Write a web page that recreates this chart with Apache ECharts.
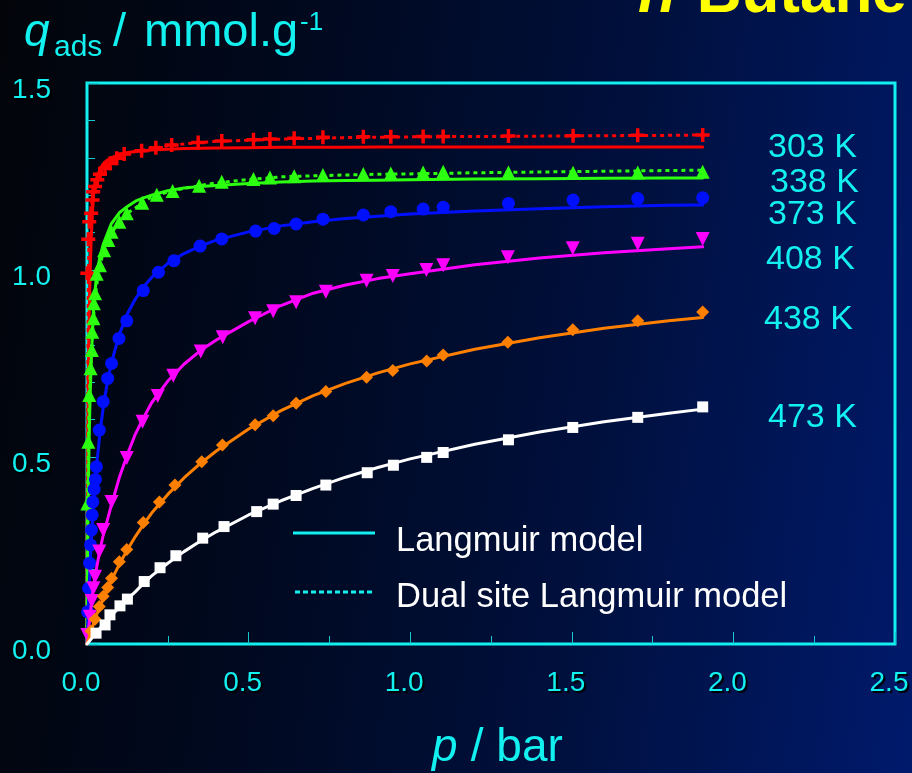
<!DOCTYPE html>
<html><head><meta charset="utf-8">
<script src="https://cdn.jsdelivr.net/npm/echarts@6/dist/echarts.min.js"></script>
<style>
html,body{margin:0;padding:0;background:#000;}
#c{width:912px;height:773px;background:linear-gradient(98deg,#020409 0%,#000a24 38%,#00103e 65%,#001a6c 100%);}
</style>
</head><body><div id="c"></div>
<script>
// ---- axis ticks ----
const xTicks = [0, 0.5, 1.0, 1.5, 2.0, 2.5];
const yTicks = [0, 0.5, 1.0, 1.5];
const tempLabels = ['303 K', '338 K', '373 K', '408 K', '438 K', '473 K'];

// ---- experimental points (p / bar, q / mmol g-1) ----
const pExp303 = [0.001,0.004,0.007,0.013,0.017,0.019,0.025,0.032,0.040,0.056,0.071,0.092,0.115,0.169,0.213,0.262,0.344,0.417,0.515,0.566,0.641,0.730,0.855,0.940,1.040,1.102,1.304,1.504,1.704,1.905];
const qExp303 = [0.991,1.082,1.129,1.152,1.187,1.209,1.223,1.241,1.256,1.272,1.285,1.299,1.310,1.319,1.327,1.334,1.341,1.345,1.348,1.350,1.352,1.355,1.356,1.356,1.357,1.357,1.358,1.359,1.360,1.361];

const pExp338 = [0.001,0.004,0.007,0.011,0.015,0.016,0.020,0.021,0.025,0.030,0.040,0.053,0.066,0.076,0.100,0.123,0.171,0.216,0.265,0.347,0.417,0.515,0.566,0.641,0.730,0.855,0.940,1.040,1.102,1.304,1.504,1.704,1.905];
const qExp338 = [0.376,0.541,0.666,0.737,0.786,0.835,0.871,0.911,0.938,0.990,1.013,1.053,1.080,1.102,1.129,1.152,1.180,1.201,1.211,1.225,1.236,1.243,1.247,1.251,1.254,1.257,1.258,1.261,1.263,1.261,1.260,1.261,1.263];

const pExp373 = [0.002,0.005,0.008,0.011,0.014,0.016,0.018,0.022,0.026,0.029,0.038,0.050,0.064,0.076,0.099,0.123,0.174,0.221,0.269,0.350,0.417,0.522,0.579,0.647,0.730,0.855,0.940,1.040,1.102,1.304,1.504,1.704,1.905];
const qExp373 = [0.086,0.149,0.216,0.265,0.305,0.345,0.380,0.414,0.440,0.474,0.572,0.648,0.710,0.750,0.817,0.864,0.945,0.994,1.025,1.064,1.083,1.104,1.111,1.123,1.136,1.147,1.156,1.163,1.168,1.178,1.187,1.191,1.193];

const pExp408 = [0.001,0.009,0.015,0.020,0.025,0.038,0.050,0.076,0.123,0.172,0.219,0.267,0.352,0.420,0.520,0.576,0.647,0.739,0.865,0.946,1.050,1.102,1.302,1.503,1.704,1.905];
const qExp408 = [0.024,0.073,0.115,0.149,0.180,0.247,0.305,0.380,0.497,0.594,0.663,0.717,0.782,0.820,0.871,0.890,0.914,0.942,0.971,0.984,1.000,1.013,1.034,1.058,1.070,1.083];

const pExp438 = [0.012,0.025,0.038,0.050,0.064,0.076,0.100,0.123,0.174,0.224,0.272,0.355,0.419,0.520,0.576,0.647,0.739,0.865,0.946,1.051,1.102,1.302,1.503,1.704,1.905];
const qExp438 = [0.035,0.066,0.100,0.128,0.151,0.176,0.220,0.253,0.325,0.380,0.425,0.487,0.532,0.586,0.610,0.644,0.675,0.713,0.731,0.757,0.773,0.807,0.840,0.864,0.888];

const pExp473 = [0.028,0.056,0.071,0.102,0.125,0.177,0.226,0.275,0.358,0.424,0.525,0.576,0.647,0.739,0.867,0.948,1.051,1.102,1.304,1.503,1.704,1.905];
const qExp473 = [0.029,0.051,0.078,0.102,0.120,0.167,0.204,0.236,0.283,0.314,0.354,0.374,0.397,0.425,0.458,0.478,0.499,0.512,0.546,0.579,0.606,0.634];

// ---- model curves, on a common pressure grid ----
const pFit     = [0,0.001,0.002,0.004,0.006,0.008,0.01,0.0125,0.015,0.02,0.025,0.03,0.04,0.05,0.06,0.075,0.1,0.125,0.15,0.175,0.2,0.25,0.3,0.35,0.4,0.5,0.6,0.7,0.8,0.9,1.0,1.2,1.4,1.6,1.8,1.905];
const qLang303 = [0,0.30,0.50,0.72,0.85,0.93,1.00,1.07,1.12,1.20,1.228,1.245,1.270,1.283,1.292,1.300,1.309,1.314,1.317,1.319,1.321,1.323,1.325,1.3255,1.326,1.327,1.328,1.328,1.328,1.329,1.329,1.329,1.329,1.329,1.329,1.329];
const qDual303 = [0,0.45,0.65,0.95,1.08,1.11,1.14,1.16,1.18,1.205,1.222,1.237,1.256,1.267,1.276,1.288,1.304,1.311,1.317,1.321,1.325,1.332,1.337,1.341,1.344,1.347,1.350,1.352,1.354,1.355,1.356,1.357,1.358,1.359,1.360,1.361];
const qLang338 = [0,0.130,0.236,0.397,0.514,0.603,0.672,0.741,0.795,0.89,0.945,0.99,1.035,1.068,1.09,1.123,1.153,1.170,1.184,1.193,1.200,1.212,1.219,1.223,1.226,1.231,1.235,1.238,1.239,1.240,1.241,1.243,1.244,1.245,1.246,1.246];
const qDual338 = [0,0.30,0.42,0.54,0.63,0.68,0.72,0.76,0.80,0.87,0.92,0.96,1.012,1.046,1.07,1.098,1.128,1.152,1.166,1.182,1.195,1.209,1.218,1.226,1.233,1.242,1.249,1.252,1.254,1.256,1.257,1.260,1.262,1.264,1.266,1.267];
const qLang373 = [0,0.026,0.051,0.098,0.141,0.181,0.218,0.260,0.299,0.368,0.428,0.479,0.564,0.631,0.685,0.750,0.828,0.883,0.923,0.955,0.980,1.018,1.044,1.064,1.080,1.102,1.118,1.129,1.138,1.144,1.150,1.158,1.164,1.169,1.173,1.174];
const qLang408 = [0,0.01,0.02,0.035,0.05,0.065,0.08,0.10,0.12,0.155,0.18,0.205,0.251,0.29,0.322,0.37,0.445,0.507,0.562,0.605,0.645,0.703,0.748,0.784,0.813,0.862,0.905,0.938,0.960,0.977,0.990,1.014,1.032,1.046,1.057,1.062];
const qLang438 = [0,0.003,0.006,0.011,0.016,0.022,0.027,0.034,0.040,0.054,0.066,0.078,0.101,0.122,0.143,0.170,0.213,0.252,0.288,0.320,0.350,0.400,0.444,0.482,0.516,0.575,0.624,0.664,0.697,0.725,0.749,0.788,0.819,0.844,0.864,0.873];
const qLang473 = [0,0.001,0.002,0.004,0.006,0.009,0.011,0.013,0.016,0.021,0.026,0.032,0.042,0.052,0.062,0.076,0.098,0.120,0.140,0.162,0.182,0.216,0.247,0.275,0.300,0.345,0.383,0.416,0.446,0.472,0.495,0.534,0.567,0.594,0.617,0.628];

// ---- styling ----
const FONT = "'Liberation Sans', Arial, sans-serif";
const CYAN = '#12f0f0';
const PLUS = 'path://M4.5,0H7.5V4.5H12V7.5H7.5V12H4.5V7.5H0V4.5H4.5Z';

const zip = (p, q) => p.map((x, i) => [x, q[i]]);

const sets = [
  {name: tempLabels[0], color: '#ff0000', p: pExp303, q: qExp303, lang: qLang303, dual: qDual303, symbol: PLUS, size: 14, rot: 0},
  {name: tempLabels[1], color: '#2cff10', p: pExp338, q: qExp338, lang: qLang338, dual: qDual338, symbol: 'triangle', size: 14, rot: 0},
  {name: tempLabels[2], color: '#0010ff', p: pExp373, q: qExp373, lang: qLang373, dual: null, symbol: 'circle', size: 13, rot: 0},
  {name: tempLabels[3], color: '#ff00ff', p: pExp408, q: qExp408, lang: qLang408, dual: null, symbol: 'triangle', size: 14, rot: 180},
  {name: tempLabels[4], color: '#ff8000', p: pExp438, q: qExp438, lang: qLang438, dual: null, symbol: 'diamond', size: 13, rot: 0},
  {name: tempLabels[5], color: '#ffffff', p: pExp473, q: qExp473, lang: qLang473, dual: null, symbol: 'rect', size: 11, rot: 0}
];

const series = [];
sets.forEach((s, k) => {
  series.push({
    type: 'line', name: s.name + ' L', data: zip(pFit, s.lang),
    symbol: 'none', smooth: false,
    lineStyle: {color: s.color, width: 3, join: 'round', cap: 'round'}, z: 2 + k * 3, silent: true
  });
  if (s.dual) {
    series.push({
      type: 'line', name: s.name + ' DSL', data: zip(pFit, s.dual),
      symbol: 'none', smooth: false,
      lineStyle: {color: s.color, width: 3, type: [4, 4]}, z: 3 + k * 3, silent: true
    });
  }
  series.push({
    type: 'scatter', name: s.name, data: zip(s.p, s.q),
    symbol: s.symbol, symbolSize: s.size, symbolRotate: s.rot,
    itemStyle: {color: s.color, opacity: 1}, clip: false, z: 4 + k * 3, silent: true
  });
});

const shadow = {textShadowColor: '#000', textShadowOffsetX: 2, textShadowOffsetY: 2, textShadowBlur: 1};
const ts = {shadowColor: '#000', shadowOffsetX: 2, shadowOffsetY: 2, shadowBlur: 1};

// right-side temperature labels
const labelPos = [[768,148],[770,183],[768,215],[766,260],[764,320],[768,418]];
const graphics = tempLabels.map((t, i) => ({
  type: 'text', x: labelPos[i][0], y: labelPos[i][1], z: 50,
  style: Object.assign({text: t, font: '34px ' + FONT, fill: CYAN, verticalAlign: 'middle'}, ts)
}));

graphics.push(
  // y axis title: q_ads / mmol.g-1
  {type: 'text', x: 24, y: 33, z: 50, style: Object.assign({text: 'q', font: 'italic 46px ' + FONT, fill: CYAN, verticalAlign: 'middle'}, ts)},
  {type: 'text', x: 54, y: 48, z: 50, style: Object.assign({text: 'ads', font: '30px ' + FONT, fill: CYAN, verticalAlign: 'middle'}, ts)},
  {type: 'text', x: 113, y: 33, z: 50, style: Object.assign({text: '/', font: '47px ' + FONT, fill: CYAN, verticalAlign: 'middle'}, ts)},
  {type: 'text', x: 144, y: 33, z: 50, style: Object.assign({text: 'mmol.g', font: '47px ' + FONT, fill: CYAN, verticalAlign: 'middle'}, ts)},
  {type: 'text', x: 300, y: 23, z: 50, style: Object.assign({text: '-1', font: '26px ' + FONT, fill: CYAN, verticalAlign: 'middle'}, ts)},
  // x axis title: p / bar
  {type: 'text', x: 432, y: 748, z: 50, style: Object.assign({text: 'p', font: 'italic 46px ' + FONT, fill: CYAN, verticalAlign: 'middle'}, ts)},
  {type: 'text', x: 458, y: 748, z: 50, style: Object.assign({text: ' / bar', font: '46px ' + FONT, fill: CYAN, verticalAlign: 'middle'}, ts)},
  // title n-Butane (cut by the top edge)
  {type: 'text', x: 638, y: -5, z: 50, style: {text: 'n', font: 'italic bold 62px ' + FONT, fill: '#ffff00', verticalAlign: 'middle', shadowColor: '#000', shadowOffsetX: 3, shadowOffsetY: 3, shadowBlur: 1}},
  {type: 'text', x: 676, y: -5, z: 50, style: {text: '-Butane', font: 'bold 62px ' + FONT, fill: '#ffff00', verticalAlign: 'middle', shadowColor: '#000', shadowOffsetX: 3, shadowOffsetY: 3, shadowBlur: 1}},
  // legend
  {type: 'line', z: 50, shape: {x1: 293, y1: 533, x2: 375, y2: 533}, style: {stroke: CYAN, lineWidth: 3}},
  {type: 'line', z: 50, shape: {x1: 295, y1: 592, x2: 375, y2: 592}, style: {stroke: CYAN, lineWidth: 3, lineDash: [5, 3]}},
  {type: 'text', x: 396, y: 541, z: 50, style: Object.assign({text: 'Langmuir model', font: '34.5px ' + FONT, fill: '#ffffff', verticalAlign: 'middle'}, ts)},
  {type: 'text', x: 396, y: 597, z: 50, style: Object.assign({text: 'Dual site Langmuir model', font: '34.5px ' + FONT, fill: '#ffffff', verticalAlign: 'middle'}, ts)}
);

const chart = echarts.init(document.getElementById('c'), null, {renderer: 'canvas'});
chart.setOption({
  backgroundColor: 'transparent',
  animation: false,
  grid: {left: 87, right: 17, top: 83, bottom: 129, show: true, borderColor: CYAN, borderWidth: 3, backgroundColor: 'transparent'},
  xAxis: {
    type: 'value', min: xTicks[0], max: xTicks[xTicks.length - 1], interval: 0.5,
    axisLine: {show: false},
    axisTick: {show: true, inside: true, length: 12, lineStyle: {color: '#18c8d0', width: 1}},
    minorTick: {show: true, splitNumber: 2, length: 8, lineStyle: {color: '#18c8d0', width: 1}},
    splitLine: {show: false},
    axisLabel: Object.assign({color: CYAN, fontSize: 28, fontFamily: FONT, margin: 25, padding: [0, 12, 0, 0],
      formatter: v => v.toFixed(1)}, shadow)
  },
  yAxis: {
    type: 'value', min: yTicks[0], max: yTicks[yTicks.length - 1], interval: 0.5,
    axisLine: {show: false},
    axisTick: {show: true, inside: true, length: 12, lineStyle: {color: '#18c8d0', width: 1}},
    minorTick: {show: true, splitNumber: 5, length: 8, lineStyle: {color: '#18c8d0', width: 1}},
    splitLine: {show: false},
    axisLabel: Object.assign({color: CYAN, fontSize: 28, fontFamily: FONT, margin: 36,
      verticalAlign: 'top', lineHeight: 15,
      formatter: v => v.toFixed(1)}, shadow)
  },
  graphic: graphics,
  series: series
});
</script></body></html>
